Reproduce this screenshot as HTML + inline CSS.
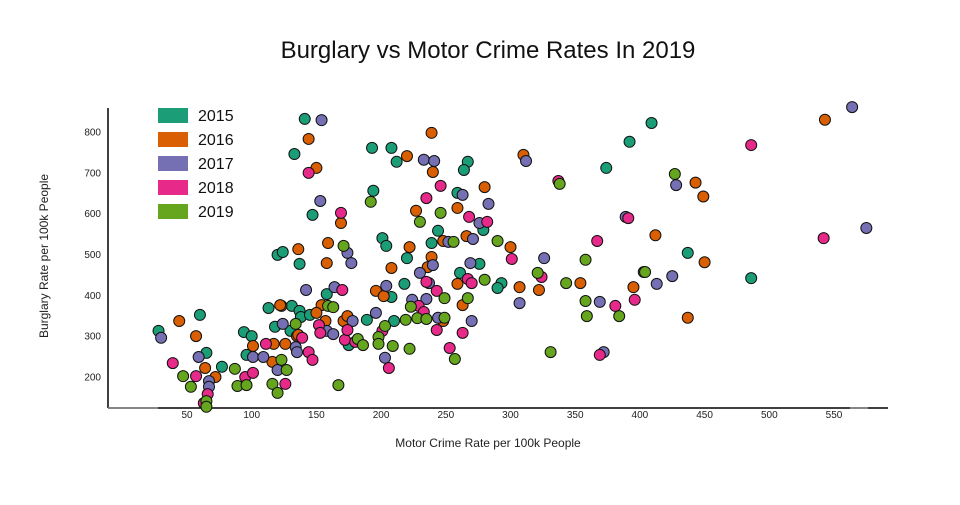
<!DOCTYPE html>
<html><head><meta charset="utf-8"><style>
body{margin:0;background:#fff;font-family:"Liberation Sans",sans-serif}
</style></head><body>
<svg id="chart" width="960" height="500" xmlns="http://www.w3.org/2000/svg" font-family="Liberation Sans, sans-serif">
<text x="488" y="58" text-anchor="middle" font-size="24" fill="#111">Burglary vs Motor Crime Rates In 2019</text>
<text x="488" y="447" text-anchor="middle" font-size="12" fill="#222">Motor Crime Rate per 100k People</text>
<text transform="translate(48,256) rotate(-90)" text-anchor="middle" font-size="12" fill="#222">Burglary Rate per 100k People</text>
<g id="axes"></g>
<g id="marks"></g>
<g id="legend"></g>
</svg>
<script>
const years=["2015","2016","2017","2018","2019"];
const colors=["#1b9e77","#d95f02","#7570b3","#e7298a","#66a61e"];
const xTicks=[50,100,150,200,250,300,350,400,450,500,550];
const yTicks=[200,300,400,500,600,700,800];
const x2015=[28,60,65,77,94,100,96,113,118,131,130,120,124,137,141,133,147,193,208,212,194,201,204,239,244,137,138,145,158,175,189,208,210,218,220,267,264,259,279,261,276,293,290,409,392,374,437,403,486];
const y2015=[313,352,259,225,310,300,254,369,323,374,313,499,506,477,832,746,597,761,761,727,656,540,521,528,558,362,347,352,403,278,340,396,337,428,491,727,707,651,560,455,477,430,418,822,776,712,504,457,442];
const x2016=[44,57,64,72,101,117,126,123,116,135,144,150,169,159,136,220,239,240,227,222,158,208,239,236,196,202,154,150,136,122,157,171,174,310,280,259,266,248,300,259,307,322,263,248,354,395,412,443,449,450,437,543];
const y2016=[337,300,222,200,276,281,281,374,237,300,783,712,577,528,513,741,798,702,607,518,479,467,494,469,411,398,376,357,303,376,337,337,349,744,665,614,545,533,518,428,420,413,376,337,430,420,547,676,642,481,345,830];
const x2017=[30,59,67,67,101,109,120,124,134,135,154,153,233,241,174,177,142,164,158,163,178,196,204,203,224,235,230,237,240,244,263,283,276,271,252,269,270,307,326,312,389,413,425,428,369,372,564,575];
const y2017=[296,249,190,176,249,249,217,330,273,261,829,631,732,729,504,479,413,420,313,305,337,357,423,247,389,391,455,430,474,345,646,624,577,538,531,479,337,381,491,729,592,428,447,670,384,261,861,565];
const x2018=[39,57,66,63,95,101,111,126,144,169,235,246,170,152,153,144,147,172,180,174,201,206,229,233,243,139,235,268,282,301,267,270,243,263,253,324,337,367,369,381,391,396,486,542];
const y2018=[234,202,158,136,200,210,281,183,700,602,638,668,413,327,308,261,242,291,286,315,313,222,374,359,315,296,433,592,580,489,440,430,411,308,271,445,680,533,254,374,589,389,768,540];
const x2019=[47,53,65,65,87,89,96,116,120,123,127,134,192,230,246,171,159,163,167,182,186,198,198,203,209,219,222,228,235,223,290,338,256,249,267,280,321,343,358,358,359,331,257,249,427,404,384];
const y2019=[202,176,141,127,220,178,180,183,161,242,217,330,629,580,602,521,374,371,180,293,278,298,281,325,276,340,269,344,342,372,533,673,531,393,393,438,455,430,487,386,349,261,244,345,697,457,349];
const seriesX=[x2015,x2016,x2017,x2018,x2019];
const seriesY=[y2015,y2016,y2017,y2018,y2019];

const NS="http://www.w3.org/2000/svg";
function xs(v){return 187+(v-50)*1.294;}
function ys(v){return 132+(800-v)*0.4083;}
function mk(tag,attrs,parent){const e=document.createElementNS(NS,tag);for(const k in attrs)e.setAttribute(k,attrs[k]);parent.appendChild(e);return e;}
const axes=document.getElementById('axes');
let l=mk('line',{x1:108,y1:108,x2:108,y2:408,stroke:'#000','stroke-width':1.5},axes);


l=mk('line',{x1:108,y1:408,x2:888,y2:408,stroke:'#000','stroke-width':1.5},axes);


l=mk('line',{x1:108,y1:408,x2:158,y2:408,stroke:'#888','stroke-width':1.5},axes);


l=mk('line',{x1:850,y1:408,x2:868,y2:408,stroke:'#888','stroke-width':1.5},axes);


xTicks.forEach(v=>{const t=mk('text',{x:xs(v),y:418,'text-anchor':'middle','font-size':10,fill:'#222'},axes);t.textContent=v;

});
yTicks.forEach(v=>{const t=mk('text',{x:101,y:ys(v)+3.5,'text-anchor':'end','font-size':10,fill:'#222'},axes);t.textContent=v;

});
const marks=document.getElementById('marks');
seriesX.forEach((xsArr,si)=>{const g=mk('g',{},marks);


xsArr.forEach((xv,i)=>{const c=mk('circle',{cx:xs(xv),cy:ys(seriesY[si][i]),r:5.5,fill:colors[si],stroke:'#111','stroke-width':1},g);

});});
const leg=document.getElementById('legend');
years.forEach((y,i)=>{const g=mk('g',{},leg);


mk('rect',{x:158,y:108+i*24,width:30,height:15,fill:colors[i]},g);
const t=mk('text',{x:198,y:121+i*24,'font-size':16,fill:'#111'},g);t.textContent=y;});
</script>
</body></html>
